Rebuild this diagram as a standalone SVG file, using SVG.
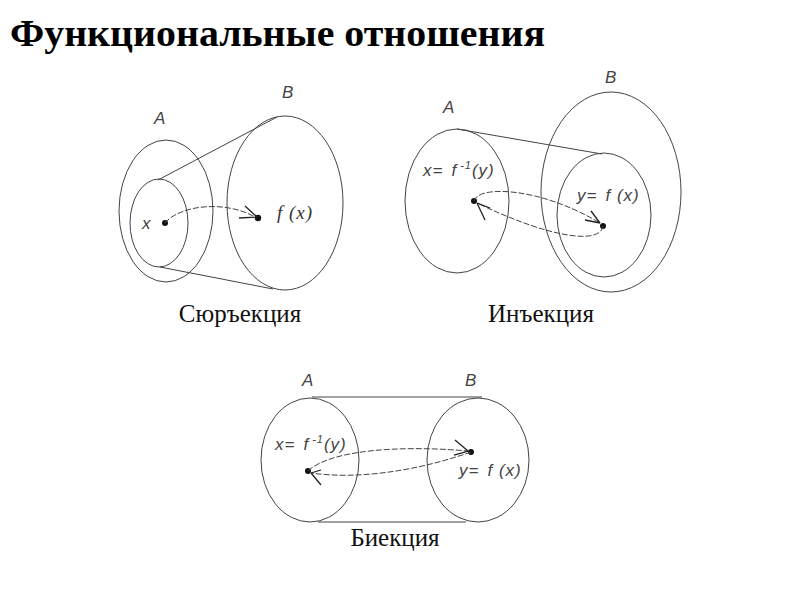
<svg xmlns="http://www.w3.org/2000/svg" width="800" height="600" viewBox="0 0 800 600">
<style>
.sh{fill:none;stroke:#444;stroke-width:1}
.cv{fill:none;stroke:#444;stroke-width:1;stroke-dasharray:6 2}
.ah{fill:none;stroke:#222;stroke-width:1.3}
.dot{fill:#111}
.lb{font-family:"Liberation Sans",Arial,sans-serif;font-style:italic;font-size:17px;fill:#444;letter-spacing:1px}
.fx{font-family:"Liberation Serif","Times New Roman",serif;font-style:italic;font-size:19px;fill:#333;letter-spacing:1px}
.cap{font-family:"Liberation Serif","Times New Roman",serif;font-size:25px;fill:#111;text-anchor:middle}
.title{font-family:"Liberation Serif","Times New Roman",serif;font-weight:bold;font-size:38px;fill:#000}
</style>
<rect width="800" height="600" fill="#fff"/>
<text class="title" x="10" y="46" textLength="535" lengthAdjust="spacingAndGlyphs">Функциональные отношения</text>

<g id="surjection">
  <g id="surj-A">
    <ellipse class="sh" cx="166" cy="211" rx="47" ry="71"/>
    <ellipse class="sh" cx="159" cy="223" rx="29" ry="44"/>
    <text class="lb" x="154" y="124">A</text>
  </g>
  <g id="surj-B">
    <ellipse class="sh" cx="285" cy="203" rx="58" ry="87"/>
    <text class="lb" x="282" y="98">B</text>
  </g>
  <g id="surj-x">
    <circle class="dot" cx="165" cy="223" r="3"/>
    <text class="lb" x="142" y="229">x</text>
  </g>
  <g id="surj-fx">
    <circle class="dot" cx="258" cy="218" r="3.2"/>
    <text class="fx" x="277" y="219">f (x)</text>
  </g>
  <text class="cap" x="240" y="322">Сюръекция</text>
</g>

<g id="injection">
  <g id="inj-A">
    <ellipse class="sh" cx="457" cy="201" rx="52" ry="72"/>
    <text class="lb" x="443" y="113">A</text>
    <text class="lb" x="423" y="176">x=<tspan dx="8">f</tspan><tspan font-size="11" dx="3" dy="-7">-1</tspan><tspan dy="7">(y)</tspan></text>
  </g>
  <g id="inj-B">
    <ellipse class="sh" cx="611" cy="192" rx="70" ry="100"/>
    <ellipse class="sh" cx="604" cy="215" rx="47" ry="62"/>
    <text class="lb" x="605" y="83">B</text>
    <text class="lb" x="577" y="201">y=<tspan dx="8">f (x)</tspan></text>
  </g>
  <circle class="dot" cx="474" cy="201" r="3"/>
  <circle class="dot" cx="603" cy="226" r="3"/>
  <text class="cap" x="541" y="322">Инъекция</text>
</g>

<g id="bijection">
  <g id="bij-A">
    <ellipse class="sh" cx="310" cy="460" rx="49" ry="62"/>
    <text class="lb" x="302" y="386">A</text>
    <text class="lb" x="275" y="450">x=<tspan dx="8">f</tspan><tspan font-size="11" dx="3" dy="-7">-1</tspan><tspan dy="7">(y)</tspan></text>
  </g>
  <g id="bij-B">
    <ellipse class="sh" cx="478" cy="460" rx="51" ry="62"/>
    <text class="lb" x="465" y="386">B</text>
    <text class="lb" x="459" y="476">y=<tspan dx="8">f (x)</tspan></text>
  </g>
  <circle class="dot" cx="308" cy="471" r="3"/>
  <circle class="dot" cx="471" cy="452" r="3"/>
  <text class="cap" x="395" y="546">Биекция</text>
</g>

<g id="connectors">
  <!-- surjection -->
  <line class="sh" x1="158" y1="180" x2="277" y2="117"/>
  <line class="sh" x1="160" y1="267" x2="273" y2="289"/>
  <path class="cv" d="M165,223 C180,205 225,200 255,217"/>
  <path class="ah" d="M245,206 L257,217 M239,218 L257,217"/>
  <!-- injection -->
  <line class="sh" x1="457" y1="129" x2="602" y2="154"/>
  <path class="cv" d="M474,201 C478,185 540,187 600,223"/>
  <path class="ah" d="M591,211 L600,223 M585,220 L600,223"/>
  <path class="cv" d="M603,226 C600,245 550,238 477,203"/>
  <path class="ah" d="M490,208 L477,203 M485,220 L477,203"/>
  <!-- bijection -->
  <line class="sh" x1="312" y1="397" x2="482" y2="397"/>
  <line class="sh" x1="318" y1="522" x2="466" y2="522"/>
  <path class="cv" d="M308,471 C330,450 400,445 468,451"/>
  <path class="ah" d="M455,440 L468,451 M454,455 L468,451"/>
  <path class="cv" d="M471,452 C420,470 360,480 311,473"/>
  <path class="ah" d="M321,470 L311,473 M321,485 L311,473"/>
</g>
</svg>
